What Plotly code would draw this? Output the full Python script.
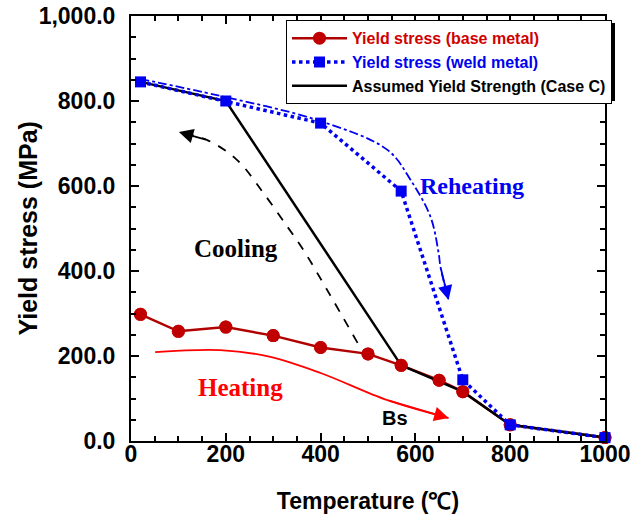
import plotly.graph_objects as go

# ---- data ----
temp_base = [20, 100, 200, 300, 400, 500, 570, 650, 700, 800, 1000]
ys_base = [298, 258, 268, 248, 220, 205, 178, 143, 116, 38, 8]

temp_weld = [20, 200, 400, 570, 700, 800, 1000]
ys_weld = [845, 800, 748, 588, 144, 38, 8]

temp_case_c = [20, 200, 570, 700, 800, 1000]
ys_case_c = [845, 800, 178, 116, 38, 8]

# guide curves (annotation arrows)
cool_x = [478, 414, 364, 330, 279, 224, 161, 101]
cool_y = [231, 355, 449, 504, 584, 661, 708, 727]
reheat_x = [19, 188, 393, 541, 590, 632, 649, 653, 670]
reheat_y = [852, 812, 755, 685, 614, 527, 442, 409, 332]
heat_x = [51, 188, 294, 400, 541, 670]
heat_y = [209, 214, 198, 160, 96, 54]

x_ticks = [0, 200, 400, 600, 800, 1000]
y_ticks = [0, 200, 400, 600, 800, 1000]

RED = "#C00000"
BLUE = "#0000F0"
SANS = "Liberation Sans, Arial, sans-serif"
SERIF = "Liberation Serif, Times New Roman, serif"

fig = go.Figure()

# guide curves
fig.add_trace(go.Scatter(x=cool_x, y=cool_y, mode="lines", showlegend=False,
                         line=dict(color="black", width=1.8, dash="dash", shape="spline"),
                         hoverinfo="skip"))
fig.add_trace(go.Scatter(x=reheat_x, y=reheat_y, mode="lines", showlegend=False,
                         line=dict(color=BLUE, width=1.8, dash="dashdot", shape="spline"),
                         hoverinfo="skip"))
fig.add_trace(go.Scatter(x=heat_x, y=heat_y, mode="lines", showlegend=False,
                         line=dict(color="#FF0000", width=1.8, shape="spline"),
                         hoverinfo="skip"))

fig.add_trace(go.Scatter(
    x=temp_base, y=ys_base, mode="lines+markers",
    name="<span style='color:#D00000'>Yield stress (base metal)</span>",
    line=dict(color="#B00000", width=2.5),
    marker=dict(symbol="circle", size=13, color=RED), legendrank=1, cliponaxis=False))
fig.add_trace(go.Scatter(
    x=temp_case_c, y=ys_case_c, mode="lines",
    name="Assumed Yield Strength (Case C)",
    line=dict(color="black", width=2.5), legendrank=3, cliponaxis=False))
fig.add_trace(go.Scatter(
    x=temp_base, y=ys_base, mode="markers", showlegend=False,
    marker=dict(symbol="circle", size=13, color=RED), cliponaxis=False))
fig.add_trace(go.Scatter(
    x=temp_weld, y=ys_weld, mode="lines+markers",
    name="<span style='color:#0000F0'>Yield stress (weld metal)</span>",
    line=dict(color=BLUE, width=3.5, dash="dot"),
    marker=dict(symbol="square", size=11, color=BLUE), legendrank=2, cliponaxis=False))

# arrowheads
arrows = [
    (cool_x, cool_y, "black"),
    (reheat_x, reheat_y, BLUE),
    (heat_x, heat_y, "#FF0000"),
]
for xs, ys, c in arrows:
    fig.add_annotation(x=xs[-1], y=ys[-1], ax=xs[-2], ay=ys[-2],
                       xref="x", yref="y", axref="x", ayref="y", text="",
                       showarrow=True, arrowhead=2, arrowsize=1.6, arrowwidth=1.8,
                       arrowcolor=c, standoff=0)

texts = [
    ("Reheating", 719, 600, BLUE, SERIF, 24),
    ("Cooling", 222, 454, "black", SERIF, 25),
    ("Heating", 230, 125, "#FF0000", SERIF, 25),
    ("Bs", 557, 54, "black", SANS, 20),
]
for t, x, y, c, f, s in texts:
    fig.add_annotation(x=x, y=y, xref="x", yref="y", text=f"<b>{t}</b>", showarrow=False,
                       font=dict(family=f, size=s, color=c))

# y-axis title (placed as rotated text)
fig.add_annotation(x=-0.2173, y=0.5, xref="paper", yref="paper", xanchor="center", yanchor="middle",
                   text="<b>Yield stress (MPa)</b>", textangle=-90, showarrow=False,
                   font=dict(family=SANS, size=25, color="black"))

# legend drop shadow
fig.add_shape(type="rect", xref="paper", yref="paper",
              x0=0.3354, x1=1.0211, y0=0.800, y1=0.9835,
              fillcolor="black", line=dict(width=0), layer="above")

axis_common = dict(showline=True, linecolor="black", linewidth=2, mirror="ticks",
                   ticks="inside", ticklen=8, tickwidth=2, tickcolor="black",
                   showgrid=False, zeroline=False, ticklabeloverflow="allow",
                   tickfont=dict(family=SANS, size=23, color="black", weight="bold"),
                   minor=dict(dtick=50, ticks="inside", ticklen=5, tickwidth=2, tickcolor="black"))

fig.update_xaxes(range=[0, 1000], tickvals=x_ticks, ticktext=[str(v) for v in x_ticks],
                 title=dict(text="<b>Temperature (\u2103)</b>",
                            font=dict(family=SANS, size=23, color="black"), standoff=27),
                 ticklabelstandoff=-9,
                 **axis_common)
fig.update_yaxes(range=[0, 1000], tickvals=y_ticks, tickformat=",.1f",
                 ticklabelstandoff=9,
                 **axis_common)

fig.update_layout(
    width=644, height=523,
    margin=dict(l=131, r=39, t=16, b=82, autoexpand=False),
    paper_bgcolor="white", plot_bgcolor="rgba(0,0,0,0)",
    font=dict(family=SANS, color="black"),
    legend=dict(x=1.0148, y=0.99, xanchor="right", yanchor="top",
                bgcolor="white", bordercolor="black", borderwidth=1,
                font=dict(family=SANS, size=16, color="black", weight="bold"),
                itemwidth=55,
                traceorder="normal", tracegroupgap=0),
)

fig.write_html("out.html", post_script="document.body.style.margin='0';",
               config={"displayModeBar": False})
